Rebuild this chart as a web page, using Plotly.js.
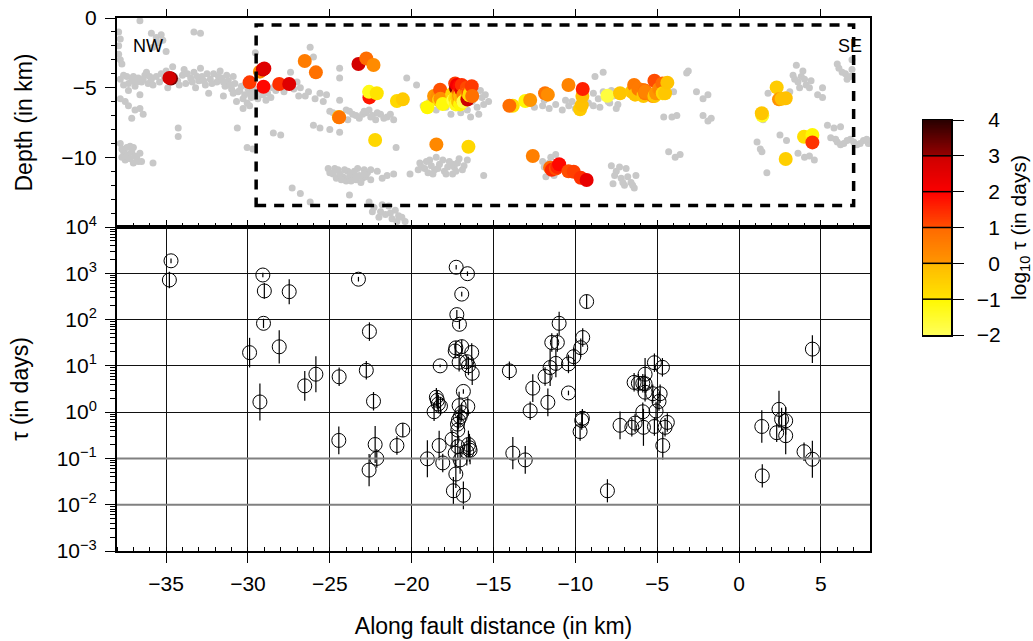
<!DOCTYPE html>
<html><head><meta charset="utf-8">
<script src="https://cdn.plot.ly/plotly-3.0.1.min.js"></script>
<style>body{margin:0;background:#fff}#chart{width:1033px;height:641px}</style>
</head><body><div id="chart"></div>
<script>
// ---- Repeating events: along-fault distance (km), depth (km), tau (days), log10 half-width of tau error bar
const evDist = [
 -34.7,-34.8,-29.9,-29.27,-29.09,-29.0,-29.05,-28.09,-27.48,-26.53,
 -25.85,-24.45,-24.43,-23.25,-22.77,-22.58,-22.6,-22.33,-22.23,-22.13,
 -20.9,-20.54,-19.04,-18.63,-18.49,-18.43,-18.37,-18.32,-18.26,-18.24,
 -18.1,-17.53,-17.45,-17.34,-17.34,-17.3,-17.3,-17.28,-17.24,-17.2,
 -17.18,-17.18,-17.14,-17.1,-17.1,-17.08,-17.04,-17.04,-16.94,-16.94,
 -16.94,-16.84,-16.84,-16.63,-16.63,-16.59,-16.57,-16.53,-16.53,-16.47,
 -16.43,-16.33,-16.3,-13.82,-14.03,-13.06,-12.76,-12.6,-11.85,-11.68,
 -11.54,-11.44,-11.19,-11.1,-10.99,-10.42,-10.42,-10.1,-9.71,-9.67,
 -9.61,-9.57,-9.55,-9.31,-8.04,-7.27,-6.55,-6.41,-6.35,-6.15,
 -5.88,-5.88,-5.84,-5.74,-5.74,-5.74,-5.27,-5.17,-5.17,-5.07,
 -4.89,-4.82,-4.68,-4.66,-4.52,-4.38,1.42,1.39,2.3,2.44,
 2.6,2.85,2.85,3.97,4.48,4.48
];
const evDepth = [
 -4.35,-4.30,-4.62,-3.85,-3.70,-3.62,-4.93,-4.74,-4.74,-3.09,
 -3.90,-7.10,-7.13,-3.30,-2.90,-5.70,-5.30,-3.37,-8.76,-5.40,
 -5.96,-5.84,-6.41,-5.60,-9.07,-5.70,-5.45,-5.90,-5.15,-5.80,
 -6.17,-5.45,-5.90,-5.80,-4.70,-5.00,-6.20,-5.05,-4.80,-5.70,
 -5.50,-6.00,-6.00,-5.30,-5.60,-4.90,-5.60,-6.20,-5.20,-4.80,
 -5.80,-5.50,-6.00,-5.00,-5.70,-5.85,-5.40,-5.30,-9.24,-5.55,
 -5.40,-4.90,-5.60,-6.30,-6.30,-5.96,-5.89,-9.90,-5.40,-5.50,
 -10.75,-10.90,-10.80,-10.70,-10.50,-4.81,-11.00,-11.03,-6.55,-11.46,
 -6.25,-5.60,-5.10,-11.63,-5.58,-5.40,-5.29,-4.81,-5.50,-5.10,
 -5.30,-5.17,-5.60,-5.40,-5.20,-5.30,-5.60,-5.60,-4.50,-5.40,
 -5.10,-5.10,-4.70,-5.40,-5.40,-4.64,-7.00,-6.84,-4.98,-5.84,
 -5.80,-5.76,-10.12,-8.52,-8.40,-8.93
];
const evTau = [
 1860,716,19.3,1.66,918,415,83,25.8,400,3.7,
 6.6,0.245,5.8,745,8.0,55,0.056,1.72,0.20,0.10,
 0.19,0.41,0.098,1.02,2.1,1.8,1.5,0.19,10,1.35,
 0.08,0.26,0.02,0.13,21,24.5,0.046,1350,128,0.55,
 0.41,0.18,0.67,12,1.38,79,0.79,0.093,355,26,
 0.98,2.8,0.016,12.3,0.14,980,1.32,10,0.20,0.17,
 0.15,19.5,6.9,0.13,7.8,0.093,1.07,3.3,5.9,1.63,
 9.2,32,11.3,32,83,2.6,11,15.8,0.38,24.7,
 0.66,0.74,41,245,0.02,0.52,0.47,4.4,0.58,4.2,
 1.02,4.2,0.47,4.1,6.6,2.7,2.5,0.49,11.7,1.06,
 1.7,2.5,9.3,0.19,0.47,0.6,0.042,0.49,0.36,1.15,
 0.7,0.65,0.31,0.14,0.096,23
];
const evErrLog = [
 0.05,0.18,0.32,0.40,0.05,0.17,0.10,0.36,0.27,0.32,
 0.39,0.30,0.20,0.05,0.20,0.20,0.35,0.20,0.40,0.20,
 0.20,0.15,0.40,0.20,0.20,0.20,0.20,0.32,0.03,0.20,
 0.20,0.20,0.30,0.30,0.15,0.15,0.30,0.05,0.10,0.20,
 0.20,0.25,0.20,0.20,0.30,0.10,0.20,0.30,0.05,0.15,
 0.20,0.05,0.30,0.15,0.30,0.05,0.20,0.20,0.30,0.30,
 0.30,0.20,0.25,0.35,0.20,0.30,0.20,0.30,0.20,0.30,
 0.40,0.20,0.30,0.20,0.25,0.05,0.20,0.20,0.20,0.20,
 0.20,0.20,0.20,0.15,0.25,0.30,0.20,0.20,0.20,0.20,
 0.20,0.20,0.40,0.20,0.35,0.20,0.20,0.20,0.20,0.20,
 0.20,0.20,0.20,0.30,0.20,0.20,0.25,0.35,0.20,0.40,
 0.25,0.30,0.40,0.20,0.40,0.30
];

// ---- Background seismicity [distance km, depth km]
const bgQuakes = [
 [-37.9,-1.0],[-37.8,-1.5],[-37.9,-2.0],[-37.9,-2.6],[-37.8,-3.0],[-37.7,-3.3],[-36.6,-0.2],
 [-35.9,-1.1],[-35.6,-1.4],[-35.3,-1.2],[-35.5,-1.8],[-35.8,-2.1],[-35.2,-1.6],[-35.0,-2.4],
 [-33.3,-1.0],[-32.9,-1.1],[-29.55,-2.5],
 [-37.8,-4.4],[-37.6,-4.8],[-37.4,-4.2],[-37.1,-4.5],[-36.9,-4.9],[-36.7,-4.3],[-36.5,-4.6],[-36.3,-4.1],
 [-36.1,-4.7],[-35.9,-4.4],[-35.6,-4.2],[-35.4,-4.6],[-35.1,-4.3],[-34.3,-4.5],[-34.0,-4.1],[-33.8,-4.7],
 [-33.5,-4.3],[-33.3,-3.9],[-33.0,-4.5],[-32.8,-4.2],[-32.6,-4.8],[-32.3,-4.4],[-32.1,-4.0],[-31.9,-4.6],
 [-31.6,-4.3],[-31.4,-4.9],[-31.2,-4.5],[-31.0,-5.1],[-30.8,-4.7],[-30.6,-5.3],[-30.4,-4.9],[-30.2,-5.5],
 [-30.0,-5.1],[-29.8,-5.7],[-29.6,-5.3],[-29.4,-5.8],[-33.9,-3.7],[-34.6,-3.5],[-32.9,-3.6],[-31.7,-3.8],
 [-36.2,-3.9],[-35.0,-3.8],[-30.9,-4.2],[-33.2,-5.0],[-34.9,-5.0],[-37.3,-5.2],[-36.6,-5.5],[-32.4,-5.4],
 [-31.5,-5.6],[-30.7,-6.0],[-29.9,-6.3],[-30.3,-6.5],
 [-37.6,-4.1],[-37.3,-4.7],[-37.0,-4.2],[-36.8,-4.6],[-36.4,-4.4],[-36.0,-4.2],[-35.8,-4.8],[-35.3,-4.0],
 [-34.5,-4.2],[-34.2,-4.8],[-33.7,-4.0],[-33.4,-4.6],[-33.1,-4.2],[-32.7,-4.5],[-32.5,-4.0],[-32.2,-4.7],
 [-31.8,-4.2],[-31.5,-4.6],[-31.3,-4.1],[-31.1,-4.8],[-30.9,-5.4],[-30.5,-5.2],[-30.3,-5.8],[-30.1,-4.8],
 [-29.9,-5.4],[-29.7,-5.0],[-29.5,-5.6],[-29.3,-5.2],[-29.1,-5.5],[-28.8,-5.4],[-28.6,-5.7],[-28.9,-5.9],
 [-28.5,-5.0],[-27.2,-5.1],[-26.9,-5.6],[-26.3,-5.3],[-25.9,-5.8],[-25.6,-5.4],[-25.4,-6.0],
 [-37.5,-6.0],[-37.3,-6.3],[-36.9,-6.6],[-36.6,-6.5],[-37.1,-7.2],[-36.4,-6.9],[-37.8,-5.8],
 [-34.26,-7.9],[-34.26,-8.5],[-30.65,-7.9],
 [-37.8,-9.0],[-37.6,-9.6],[-37.3,-9.8],[-37.0,-9.3],[-36.8,-10.0],[-37.5,-10.2],[-37.0,-10.4],
 [-36.6,-9.7],[-37.7,-10.0],[-37.2,-9.2],[-35.8,-10.4],[-36.5,-10.3],
 [-37.7,-9.4],[-37.4,-9.9],[-37.1,-9.6],[-36.9,-9.9],[-37.4,-9.3],[-37.2,-10.1],[-36.7,-10.3],
 [-30.05,-9.3],[-29.7,-9.4],[-30.05,-6.1],
 [-27.4,-3.9],[-27.0,-4.6],[-26.2,-2.1],[-26.0,-2.8],[-24.4,-3.6],[-24.4,-4.3],[-25.2,-5.5],[-24.4,-5.9],
 [-25.0,-6.7],[-24.6,-7.0],[-24.0,-6.6],[-23.6,-6.9],[-23.2,-7.2],[-22.8,-6.8],[-22.4,-7.0],[-23.9,-7.3],
 [-24.8,-6.8],[-24.3,-7.2],[-23.8,-6.7],[-23.4,-7.0],[-23.0,-6.9],[-22.6,-6.6],[-22.2,-7.3],[-21.9,-6.9],[-21.5,-7.1],
 [-28.3,-5.2],[-27.8,-5.3],[-26.8,-5.0],[-26.5,-5.6],
 [-28.45,-8.25],[-28.0,-8.4],[-26.0,-7.7],[-25.6,-7.9],[-25.0,-8.0],[-24.4,-8.2],
 [-25.1,-10.8],[-24.8,-11.2],[-24.5,-10.9],[-24.2,-11.4],[-23.9,-11.0],[-23.6,-11.3],[-23.3,-10.8],
 [-23.0,-11.5],[-22.7,-11.1],[-22.5,-10.9],[-24.0,-11.7],[-23.4,-11.6],[-24.6,-11.5],
 [-25.0,-11.1],[-24.7,-10.8],[-24.4,-11.2],[-24.1,-10.9],[-23.8,-11.4],[-23.5,-11.0],[-23.2,-11.3],
 [-22.9,-10.9],[-22.8,-11.4],[-24.3,-11.6],[-23.7,-11.7],[-23.1,-11.8],
 [-27.3,-12.2],[-26.8,-12.6],[-26.2,-13.2],[-23.8,-12.7],
 [-20.3,-4.3],[-19.7,-4.8],
 [-22.9,-6.7],[-22.5,-7.1],[-22.1,-6.8],[-21.7,-7.2],[-21.3,-6.9],[-21.1,-7.3],
 [-16.9,-6.2],[-16.6,-6.6],[-16.3,-6.0],[-16.0,-6.4],[-15.7,-5.7],[-15.9,-6.9],[-16.4,-7.1],[-17.0,-6.8],
 [-15.6,-6.2],[-17.9,-6.4],[-18.5,-6.6],[-17.6,-6.9],[-15.8,-5.2],[-16.2,-5.0],
 [-18.9,-6.0],[-19.3,-6.3],[-15.5,-5.5],[-15.3,-6.0],[-16.1,-5.5],
 [-20.95,-9.3],
 [-19.5,-10.4],[-19.2,-10.8],[-18.9,-10.2],[-18.6,-10.9],[-18.3,-10.5],[-18.0,-11.0],[-17.7,-10.3],
 [-17.4,-10.7],[-17.1,-10.1],[-16.8,-10.6],[-19.0,-11.1],[-17.9,-11.2],[-16.6,-10.2],[-18.5,-10.0],[-17.5,-11.2],
 [-19.4,-10.7],[-19.1,-10.3],[-18.8,-10.6],[-18.4,-10.8],[-18.1,-10.2],[-17.8,-10.7],[-17.5,-10.5],
 [-17.2,-10.4],[-16.9,-10.9],[-18.7,-11.2],[-17.3,-11.0],[-19.6,-10.9],
 [-22.9,-11.2],[-22.5,-11.6],[-22.1,-11.0],[-21.8,-11.5],[-21.5,-11.3],[-21.1,-11.2],[-20.1,-11.2],[-15.6,-11.3],
 [-22.6,-13.2],[-22.3,-13.6],[-21.9,-13.9],[-21.6,-14.1],[-21.2,-14.4],[-20.8,-14.2],[-20.4,-14.6],[-21.4,-13.5],[-22.0,-14.3],
 [-22.4,-13.9],[-21.8,-13.4],[-21.3,-14.0],[-20.9,-14.6],[-20.6,-14.3],[-21.0,-13.8],
 [-12.0,-10.3],[-11.7,-10.9],[-11.5,-10.0],[-11.3,-11.3],[-11.0,-10.6],[-11.8,-11.4],[-11.2,-9.8],
 [-11.9,-10.7],[-11.6,-10.4],[-11.4,-10.8],[-11.1,-11.0],
 [-8.8,-4.2],[-8.3,-3.9],
 [-8.9,-5.4],[-8.6,-5.8],[-8.3,-5.3],[-8.0,-6.0],[-7.7,-5.6],[-7.4,-6.2],[-8.5,-6.4],[-7.8,-5.2],
 [-12.0,-6.3],[-11.6,-6.5],[-11.2,-6.2],[-10.8,-6.6],[-10.4,-6.3],[-10.0,-6.5],
 [-12.5,-6.4],[-11.9,-5.9],[-10.6,-5.9],[-10.2,-6.0],[-9.2,-6.1],[-8.9,-6.3],
 [-7.9,-6.1],[-7.5,-6.5],
 [-7.8,-10.6],[-7.5,-11.0],[-7.2,-11.5],[-6.9,-10.8],[-6.6,-11.8],[-6.4,-12.2],[-7.0,-12.0],[-7.7,-11.9],[-6.3,-11.3],
 [-7.6,-11.3],[-7.3,-10.7],[-6.8,-11.4],[-6.5,-12.0],[-7.1,-11.8],
 [-4.9,-4.7],[-4.6,-5.0],[-4.3,-4.8],[-4.0,-5.3],
 [-4.6,-7.1],[-4.1,-7.1],[-3.8,-7.0],
 [-3.2,-3.95],[-3.1,-3.8],
 [-2.6,-5.3],[-2.2,-5.8],[-1.9,-5.5],
 [-2.2,-7.0],[-1.9,-7.4],[-1.7,-7.2],
 [-4.3,-9.6],[-3.9,-10.0],[-3.6,-9.8],
 [1.1,-8.9],[1.3,-9.4],[1.4,-9.6],
 [1.47,-7.3],[1.7,-11.1],[1.77,-5.4],[2.5,-8.4],[2.9,-8.8],[3.1,-5.3],
 [3.3,-4.1],[3.6,-4.6],[3.8,-4.2],[4.1,-4.8],[4.4,-4.5],[3.5,-3.4],[3.9,-3.8],[4.3,-5.0],
 [3.4,-4.4],[4.0,-4.4],[3.7,-5.0],
 [5.1,-5.0],[5.1,-5.7],[4.8,-5.5],
 [3.6,-9.7],[4.0,-10.0],[4.3,-9.9],[4.6,-10.2],
 [5.4,-7.7],[5.8,-7.9],[6.2,-7.8],
 [5.6,-8.6],[6.0,-8.9],[6.4,-9.0],[6.8,-8.7],[7.2,-9.1],[7.6,-8.8],[7.9,-9.0],
 [5.9,-8.7],[6.6,-8.8],[7.0,-8.9],[7.4,-9.0],[7.8,-8.7],[6.2,-9.1],
 [6.0,-3.3],[6.3,-3.9],[6.6,-4.4],[6.9,-3.7],[6.9,-3.0],[6.1,-3.6],[6.5,-4.0],[6.8,-4.2]
];
const bgDist = bgQuakes.map(p => p[0]);
const bgDepth = bgQuakes.map(p => p[1]);

// ---- Axis ticks / labels
const distTicks = [-35,-30,-25,-20,-15,-10,-5,0,5];
const depthTicks = [0,-5,-10];
const depthTickText = ['0','\u22125','\u221210'];
const tauTicks = [1e-3,1e-2,1e-1,1,1e1,1e2,1e3,1e4];
const tauTickText = ['10<sup>\u22123</sup>','10<sup>\u22122</sup>','10<sup>\u22121</sup>','10<sup>0</sup>',
                     '10<sup>1</sup>','10<sup>2</sup>','10<sup>3</sup>','10<sup>4</sup>'];
const tauMinorMultipliers = [2,3,4,5,6,7,8,9];
const cbTicks = [-2,-1,0,1,2,3,4];
const cbTickText = ['\u22122','\u22121','\u20070','\u20071','\u20072','\u20073','\u20074'];

// colour scale for log10(tau) in [-2, 4]
const tauColorscale = [
 [0,'rgb(255,255,90)'],[1/6,'rgb(255,248,0)'],
 [1/6,'rgb(255,228,0)'],[2/6,'rgb(255,185,0)'],
 [2/6,'rgb(255,150,0)'],[3/6,'rgb(255,105,0)'],
 [3/6,'rgb(255,80,0)'],[4/6,'rgb(255,0,0)'],
 [4/6,'rgb(250,0,0)'],[5/6,'rgb(205,0,0)'],
 [5/6,'rgb(150,0,0)'],[1,'rgb(40,0,0)']
];

// derived
const evLogTau = evTau.map(t => Math.log10(t));
const errPlus = evTau.map((t,i) => t*(Math.pow(10,evErrLog[i])-1));
const errMinus = evTau.map((t,i) => t*(1-Math.pow(10,-evErrLog[i])));
const tauMinorTicks = [];
tauTicks.slice(0,-1).forEach(d => tauMinorMultipliers.forEach(k => tauMinorTicks.push(d*k)));
// colour key rows
const cbLevels = Array.from({length:301},(_,i)=>-2+i*0.02);

// geometry helpers (pixel -> paper)
const W=1033,H=641,L=117,R=20,T=18,B=90;
const pw=W-L-R, ph=H-T-B;
const fx = p => (p-L)/pw;
const fy = p => 1-(p-T)/ph;

const FONT = 'Liberation Sans, Arial, Helvetica, sans-serif';
const TICKF = {family:FONT, size:21, color:'#000'};
const TITLEF = {family:FONT, size:23, color:'#000'};

const traces = [
 {type:'scatter', mode:'markers', x:bgDist, y:bgDepth, xaxis:'x', yaxis:'y',
  marker:{size:7, color:'#c8c8c8'}, hoverinfo:'skip'},
 {type:'scatter', mode:'markers', x:evDist, y:evDepth, xaxis:'x', yaxis:'y',
  marker:{size:14, color:evLogTau, colorscale:tauColorscale, cmin:-2, cmax:4, showscale:false, line:{width:0}}},
 {type:'scatter', mode:'markers', x:evDist, y:evTau, xaxis:'x2', yaxis:'y2',
  marker:{symbol:'circle-open', size:14, color:'#000', line:{width:1, color:'#000'}},
  error_y:{type:'data', symmetric:false, array:errPlus, arrayminus:errMinus, color:'#000', thickness:1.2, width:0}},
 {type:'heatmap', x:[0,1], y:cbLevels, z:cbLevels.map(v=>[v,v]), xaxis:'x3', yaxis:'y3',
  colorscale:tauColorscale, zmin:-2, zmax:4, showscale:false, hoverinfo:'skip'},
 {type:'scatter', mode:'markers', x:[], y:[], xaxis:'x4', yaxis:'y', hoverinfo:'skip'}
];

const shapes = [
 {type:'rect', xref:'x', yref:'y', x0:-29.5, x1:7.0, y0:-13.45, y1:-0.5,
  line:{color:'#000', width:3.5, dash:'10px,8px'}},
 {type:'line', xref:'x2', yref:'y2', x0:-38, x1:8, y0:0.1, y1:0.1, line:{color:'#808080', width:2}},
 {type:'line', xref:'x2', yref:'y2', x0:-38, x1:8, y0:0.01, y1:0.01, line:{color:'#808080', width:2}}
];
[-1,0,1,2,3].forEach(k => shapes.push({type:'line', xref:'x3', yref:'y3', x0:-0.5, x1:1.5, y0:k, y1:k,
  line:{color:'#000', width:1.5}}));

const axBase = {showline:true, linecolor:'#000', linewidth:2, mirror:true, zeroline:false,
  tickcolor:'#000', tickwidth:1, tickfont:TICKF};

const layout = {
 width:W, height:H, margin:{l:L, r:R, t:T, b:B},
 paper_bgcolor:'#fff', plot_bgcolor:'rgba(0,0,0,0)', showlegend:false,
 font:{family:FONT, size:21, color:'#000'},
 xaxis:Object.assign({}, axBase, {domain:[0,fx(870)], anchor:'y', range:[-38,8], side:'top',
   tickvals:distTicks, ticks:'outside', ticklen:7, showticklabels:false, showgrid:false}),
 xaxis4:{overlaying:'x', anchor:'y', side:'bottom', range:[-38,8], tickvals:distTicks,
   ticks:'inside', ticklen:7, tickcolor:'#000', showticklabels:false, showgrid:false, zeroline:false, showline:false,
   minor:{ticks:'inside', ticklen:4, dtick:1, tick0:0, tickcolor:'#000', showgrid:false}},
 yaxis:Object.assign({}, axBase, {domain:[fy(227),1], anchor:'x', range:[-15,0],
   tickvals:depthTicks, ticktext:depthTickText, ticks:'outside', ticklen:10, ticklabelstandoff:4, showgrid:false,
   minor:{ticks:'outside', ticklen:4, dtick:1, tick0:0, tickcolor:'#000', showgrid:false},
   title:{text:'Depth (in km)', font:TITLEF, standoff:22}}),
 xaxis2:Object.assign({}, axBase, {domain:[0,fx(870)], anchor:'y2', range:[-38,8],
   tickvals:distTicks, ticks:'outside', ticklen:10, ticklabelstandoff:3, showgrid:true, gridcolor:'#111', gridwidth:1,
   minor:{ticks:'inside', ticklen:4, dtick:1, tick0:0, tickcolor:'#000', showgrid:false},
   title:{text:'Along fault distance (in km)', font:TITLEF, standoff:24}}),
 yaxis2:Object.assign({}, axBase, {domain:[0,fy(227)], anchor:'x2', type:'log', range:[-3,4],
   tickvals:tauTicks, ticktext:tauTickText, ticks:'outside', ticklen:10, ticklabelstandoff:4, showgrid:true, gridcolor:'#111', gridwidth:1,
   minor:{tickmode:'array', tickvals:tauMinorTicks, ticks:'outside', ticklen:5, tickcolor:'#000', showgrid:false},
   title:{text:'\u03c4 (in days)', font:TITLEF, standoff:22}}),
 xaxis3:{domain:[fx(923),fx(951)], anchor:'y3', range:[-0.5,1.5], showticklabels:false, ticks:'',
   showline:true, linecolor:'#000', linewidth:1.5, mirror:true, showgrid:false, zeroline:false},
 yaxis3:{domain:[fy(335),fy(120)], anchor:'x3', side:'right', range:[-2,4], tickvals:cbTicks, ticktext:cbTickText,
   ticks:'outside', ticklen:11, tickcolor:'#000', tickwidth:1, showline:true, linecolor:'#000', linewidth:1.5, mirror:true,
   showgrid:false, zeroline:false, ticklabelstandoff:9, tickfont:TICKF,
   title:{text:'log<sub>10</sub> \u03c4 (in days)', font:{family:FONT, size:21, color:'#000'}, standoff:12}},
 shapes:shapes,
 annotations:[
  {xref:'x', yref:'y', x:-36.1, y:-2.0, text:'NW', showarrow:false, font:{family:FONT, size:18, color:'#000'}},
  {xref:'x', yref:'y', x:6.78, y:-2.0, text:'SE', showarrow:false, font:{family:FONT, size:18, color:'#000'}}
 ]
};

Plotly.newPlot('chart', traces, layout, {displayModeBar:false, staticPlot:true});
</script>
</body></html>
